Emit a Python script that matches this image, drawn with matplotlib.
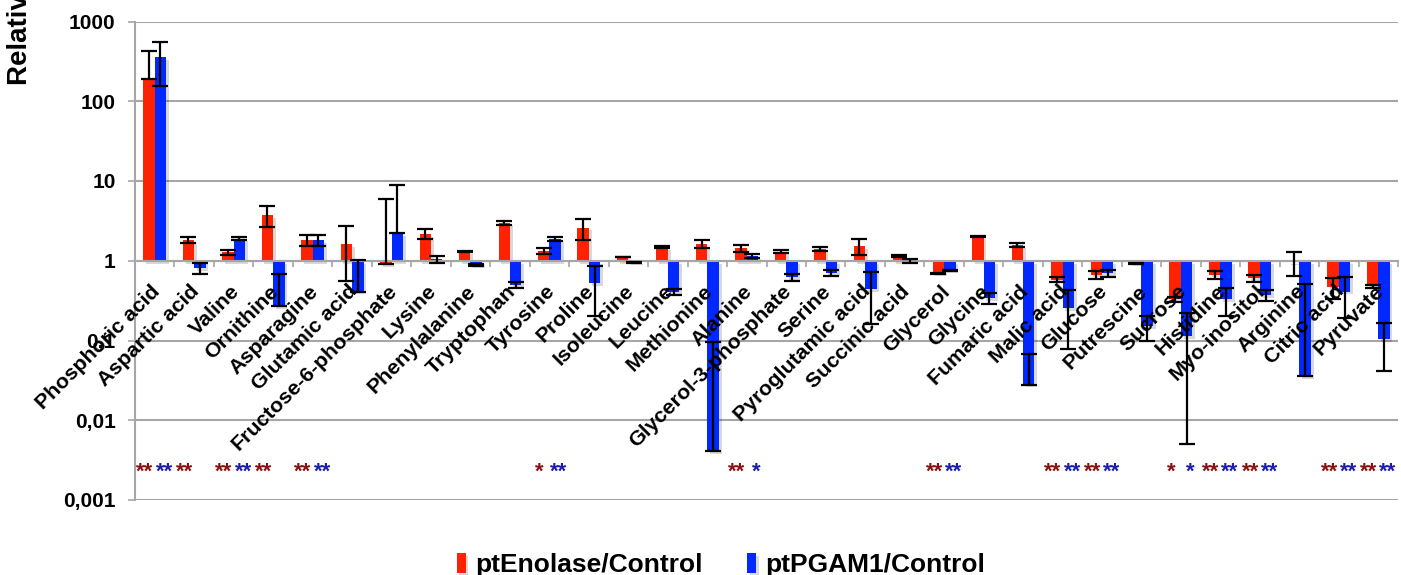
import matplotlib
matplotlib.use('Agg')
import matplotlib.pyplot as plt
import matplotlib.patheffects as pe
import numpy as np

plt.rcParams['font.family'] = ['Liberation Sans', 'DejaVu Sans']
plt.rcParams['font.weight'] = 'bold'

NAMES = ['Phosphoric acid', 'Aspartic acid', 'Valine', 'Ornithine', 'Asparagine',
         'Glutamic acid', 'Fructose-6-phosphate', 'Lysine', 'Phenylalanine',
         'Tryptophan', 'Tyrosine', 'Proline', 'Isoleucine', 'Leucine', 'Methionine',
         'Alanine', 'Glycerol-3-phosphate', 'Serine', 'Pyroglutamic acid',
         'Succinic acid', 'Glycerol', 'Glycine', 'Fumaric acid', 'Malic acid',
         'Glucose', 'Putrescine', 'Sucrose', 'Histidine', 'Myo-inositol',
         'Arginine', 'Citric acid', 'Pyruvate']

# ratio to control and error (linear, symmetric)
enol = [188, 1.83, 1.27, 3.76, 1.80, 1.62, 0.91, 2.16, 1.30, 3.0, 1.32, 2.61,
        1.12, 1.48, 1.63, 1.44, 1.30, 1.40, 1.54, 1.14, 0.69, 2.01, 1.58, 0.58,
        0.67, 0.92, 0.33, 0.67, 0.60, 0.97, 0.47, 0.48]
enol_err = [237, 0.15, 0.08, 1.08, 0.29, 1.07, 5.1, 0.31, 0.03, 0.18, 0.11, 0.77,
            0.01, 0.03, 0.2, 0.15, 0.05, 0.08, 0.35, 0.04, 0.01, 0.05, 0.1, 0.04,
            0.08, 0.02, 0.025, 0.08, 0.06, 0.33, 0.135, 0.02]
pgam = [355, 0.81, 1.90, 0.27, 1.80, 0.41, 2.22, 1.04, 0.88, 0.50, 1.88, 0.53,
        0.96, 0.41, 0.0041, 1.15, 0.62, 0.70, 0.44, 0.99, 0.76, 0.34, 0.028,
        0.256, 0.70, 0.15, 0.113, 0.33, 0.37, 0.036, 0.41, 0.105]
pgam_err = [200, 0.13, 0.06, 0.42, 0.28, 0.6, 6.7, 0.11, 0.02, 0.04, 0.11, 0.33,
            0.01, 0.035, 0.092, 0.07, 0.06, 0.055, 0.28, 0.06, 0.01, 0.05, 0.039,
            0.178, 0.07, 0.05, 0.108, 0.13, 0.06, 0.47, 0.22, 0.063]

enol_sig = ['**', '**', '**', '**', '**', '', '', '', '', '', '*', '', '', '', '',
            '**', '', '', '', '', '**', '', '', '**', '**', '', '*', '**', '**', '',
            '**', '**']
pgam_sig = ['**', '', '**', '', '**', '', '', '', '', '', '**', '', '', '', '',
            '*', '', '', '', '', '**', '', '', '**', '**', '', '*', '**', '**', '',
            '**', '**']

YTICKS = [0.001, 0.01, 0.1, 1, 10, 100, 1000]
YLABELS = ['0,001', '0,01', '0,1', '1', '10', '100', '1000']

RED = '#ff2200'
BLUE = '#0028ff'
GRID = '#a6a6a6'


def err_bounds(v, e):
    # excel on a log axis: a negative lower end is drawn at the value itself
    v = np.array(v, float)
    e = np.array(e, float)
    lo = np.where(v - e > 0, v - e, v)
    return [v - lo, e]


fig = plt.figure(figsize=(14.01, 5.75), dpi=100)
ax = fig.add_axes([135 / 1401, 1 - 500 / 575, 1263 / 1401, (500 - 21.5) / 575])
ax.set_yscale('log')
ax.set_ylim(0.001, 1000)
ax.set_xlim(-0.5, len(NAMES) - 0.5)

x = np.arange(len(NAMES))
w = 0.29
shadow = [pe.SimplePatchShadow(offset=(2, -2), shadow_rgbFace='k', alpha=0.15), pe.Normal()]
b1 = ax.bar(x - w / 2, np.array(enol) - 1, w, bottom=1, color=RED, zorder=2,
            label='ptEnolase/Control')
b2 = ax.bar(x + w / 2, np.array(pgam) - 1, w, bottom=1, color=BLUE, zorder=2,
            label='ptPGAM1/Control')
for r in list(b1) + list(b2):
    r.set_path_effects(shadow)

ax.errorbar(x - w / 2, enol, yerr=err_bounds(enol, enol_err), fmt='none',
            ecolor='black', elinewidth=1.6, capsize=5.5, capthick=1.6, zorder=4)
ax.errorbar(x + w / 2, pgam, yerr=err_bounds(pgam, pgam_err), fmt='none',
            ecolor='black', elinewidth=1.6, capsize=5.5, capthick=1.6, zorder=4)

# axes styling
for s in ['top', 'right']:
    ax.spines[s].set_visible(False)
ax.spines['left'].set_color(GRID)
ax.spines['left'].set_linewidth(1.5)
ax.spines['bottom'].set_position(('data', 1))
ax.spines['bottom'].set_color(GRID)
ax.spines['bottom'].set_linewidth(1.5)
ax.spines['bottom'].set_zorder(3)

ax.set_yticks(YTICKS)
ax.set_yticklabels(YLABELS)
ax.yaxis.set_minor_locator(matplotlib.ticker.NullLocator())
ax.tick_params(axis='y', length=5, width=1.2, color=GRID, pad=9, labelsize=15)
ax.set_xticks(np.arange(-0.5, len(NAMES), 1))
ax.set_xticklabels([])
ax.tick_params(axis='x', length=4, width=1.2, color=GRID, direction='out')
ax.yaxis.grid(True, color=GRID, linewidth=1.5)
ax.set_axisbelow(True)

for i, name in enumerate(NAMES):
    ax.annotate(name, (i, 1), xytext=(-3, -15), textcoords='offset points',
                rotation=45, ha='right', va='top', rotation_mode='anchor',
                fontsize=15.4, fontweight='bold', zorder=5)

for i in range(len(NAMES)):
    if enol_sig[i]:
        ax.text(i - 0.245, 0.0019, enol_sig[i], ha='center', va='baseline',
                color='#8c1010', fontsize=16, fontweight='bold')
    if pgam_sig[i]:
        ax.text(i + 0.245, 0.0019, pgam_sig[i], ha='center', va='baseline',
                color='#1c1cb0', fontsize=16, fontweight='bold')

fig.text(20 / 1401, 1 - 85 / 575, 'Relative metabolite level', rotation=90,
         ha='center', va='bottom', fontsize=20, fontweight='bold')

fig.legend(handles=[b1, b2], loc='lower center', bbox_to_anchor=(0.5146, -0.045),
           ncol=2, frameon=False, prop={'size': 19, 'weight': 'bold'},
           handlelength=0.34, handleheight=0.75, handletextpad=0.35, columnspacing=1.7)

fig.savefig('out.png', dpi=100)
